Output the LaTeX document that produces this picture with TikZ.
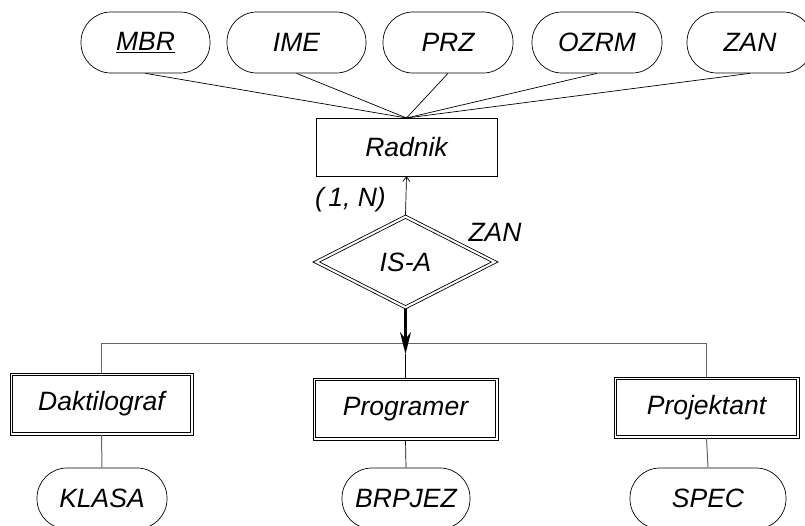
\documentclass[tikz,border=0pt]{standalone}
\usepackage{fontspec}
\setmainfont{Liberation Sans}
\usetikzlibrary{shapes.geometric,arrows.meta}
\begin{document}
\begin{tikzpicture}[x=1pt,y=-1pt,
  every node/.style={font=\fontsize{26.5}{29}\selectfont\itshape},
  attr/.style={draw, line width=0.7pt, rectangle, rounded corners=30pt, minimum height=61pt, inner sep=0pt},
  ent/.style={draw, line width=0.7pt, rectangle, minimum height=58pt, minimum width=181pt, inner sep=0pt, outer sep=0pt},
  went/.style={draw, line width=0.7pt, rectangle, minimum height=62pt, minimum width=183pt, inner sep=0pt, outer sep=0pt},
  rel/.style={draw, line width=0.7pt, diamond, aspect=2, minimum width=185pt, minimum height=94pt, inner sep=0pt, outer sep=0pt},
  innerline/.style={line width=0.7pt},
  conn/.style={line width=0.7pt},
  gconn/.style={line width=1pt, draw=black!60},
  lbl/.style={inner sep=0pt}
]
\useasboundingbox (0,0) rectangle (805,525);
% top attributes
\node[attr, minimum width=129pt] (mbr) at (145.5,42.5) {\underline{MBR}};
\node[attr, minimum width=139pt] (ime) at (296.5,42.5) {IME};
\node[attr, minimum width=130pt] (prz) at (448,42.5) {PRZ};
\node[attr, minimum width=130pt] (ozrm) at (597,42.5) {OZRM};
\node[attr, minimum width=126pt] (zan) at (750,42.5) {ZAN};
% entity
\node[ent] (rad) at (406.5,147) {Radnik};
\foreach \a in {mbr,ime,prz,ozrm,zan} \draw[conn] (\a.south) -- (rad.north);
% relationship
\node[rel] (isa) at (405.5,262) {IS-A};
\draw[innerline] ([yshift=-3.4pt]isa.north) -- ([xshift=6.6pt]isa.west) -- ([yshift=3.4pt]isa.south) -- ([xshift=-6.6pt]isa.east) -- cycle;
\draw[conn, -{Straight Barb[length=5pt,width=7pt]}] (isa.north) -- (rad.south);
\node[lbl, anchor=east] (card) at (386,200) {(\,1, N)};
\node[lbl] (zanl) at (495,232) {ZAN};
% subtypes
\node[went] (dak) at (101.5,404) {Daktilograf};
\node[went, minimum width=185pt] (prog) at (405.5,409) {Programer};
\node[went, minimum width=185pt, minimum height=61pt] (proj) at (706.5,407.5) {Projektant};
\foreach \n in {dak,prog,proj}
  \draw[innerline] ([shift={(2.7pt,-2.7pt)}]\n.north west) rectangle ([shift={(-2.7pt,2.7pt)}]\n.south east);
\coordinate (hl) at (101.5,343);
\coordinate (hr) at (706.5,343);
\coordinate (tip) at (405.5,354);
\draw[gconn] (dak.north) -- (hl) -- (hr) -- (proj.north);
\draw[conn] (tip) -- (prog.north);
\draw[line width=2.2pt, -{Stealth[length=22pt,width=11pt,inset=7pt]}] (isa.south) -- (tip);
% bottom attributes
\node[attr, minimum width=130pt] (klasa) at (102,498.5) {KLASA};
\node[attr, minimum width=128pt] (brp) at (406,498.5) {BRPJEZ};
\node[attr, minimum width=156pt] (spec) at (708,498.5) {SPEC};
\draw[gconn] (dak.south) -- (klasa.north);
\draw[conn] (prog.south) -- (brp.north);
\draw[gconn] (proj.south) -- (spec.north);
\end{tikzpicture}
\end{document}
